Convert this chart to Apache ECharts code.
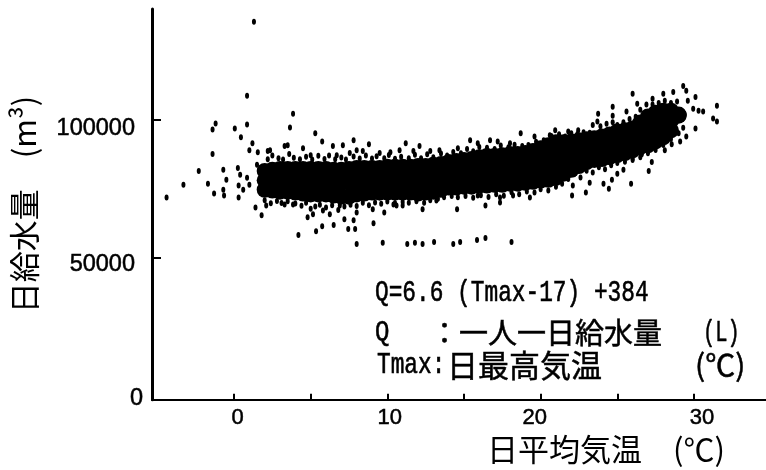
<!DOCTYPE html>
<html><head><meta charset="utf-8">
<style>html,body{margin:0;padding:0;background:#fff}#c{width:766px;height:470px}</style>
<script src="https://cdn.jsdelivr.net/npm/echarts@6/dist/echarts.min.js"></script>
</head><body><div id="c"></div>
<script>
// Dense band of the cloud, read column by column (temperature, upper / middle / lower water volume)
const bandTemp = [2,2.5,3,3.5,4,4.5,5,5.5,6,6.5,7,7.5,8,8.5,9,9.5,10,10.5,11,11.5,12,12.5,13,13.5,14,14.5,15,15.5,16,16.5,17,17.5,18,18.5,19,19.5,20,20.5,21,21.5,22,22.5,23,23.5,24,24.5,25,25.5,26,26.5,27,27.5,28,28.5,29];
const bandHigh = [81400,81800,82100,82100,82100,82100,82100,82100,82100,81800,81800,82100,82500,82500,82500,82500,82900,82900,82900,82900,83200,83200,83600,83900,84600,85000,85400,85700,86400,86800,86800,87100,87500,87500,87900,88600,89600,90700,91800,91800,92100,92500,92900,93200,93900,94600,95700,96100,96800,98900,101100,102500,103200,103200,101800];
const bandMid  = [78000,78000,78000,78000,77900,77700,77500,77500,77500,77200,77000,77100,77700,77900,78000,78000,78200,78200,78200,78200,78200,78400,78700,79200,80000,80200,80500,80700,81200,81400,81600,81700,82100,82100,82500,83000,83700,84400,85300,86100,87000,87800,88700,89300,89800,90500,91400,92000,92800,94400,95900,97300,98400,99600,101600];
const bandLow  = [74600,74300,73900,73900,73600,73200,72900,72900,72900,72500,72100,72100,72900,73200,73600,73600,73600,73600,73600,73600,73200,73600,73900,74600,75400,75400,75700,75700,76100,76100,76400,76400,76800,76800,77100,77500,77900,78200,78900,80400,81800,83200,84600,85400,85700,86400,87100,87900,88900,90000,90700,92100,93600,96100,101400];
// Extra columns where the band is thickest
const bandFillPoints = [[15.5,83200],[15.5,78200],[16,83800],[16,78600],[16.5,84100],[16.5,78800],[17,84200],[17,79000],[17.5,84400],[17.5,79000],[18,84800],[18,79400],[18.5,84800],[18.5,79400],[19,85200],[19,79800],[19.5,85800],[19.5,80200],[20,86600],[20,80800],[20.5,87500],[20.5,81300],[21,88500],[21,82100],[21.5,89000],[21.5,83300],[22,89500],[22,84400],[22.5,90100],[22.5,85500],[23,90800],[23,86600],[23.5,91200],[23.5,87300],[24,91800],[24,87700],[26,94800],[26,90900],[26.5,96600],[26.5,92200],[27,98500],[27,93300],[27.5,99900],[27.5,94700],[28,100800],[28,96000]];
// Ragged points along the edges of the band
const topEdgePoints = [[2.2,85600],[2.5,87000],[2.9,86000],[3.2,85500],[3.6,87500],[3.9,86200],[4.3,85600],[4.7,86500],[5.1,85500],[5.5,86900],[5.9,85700],[6.2,87000],[6.6,85600],[7,86300],[7.3,85500],[7.8,86600],[8.2,85900],[8.6,87000],[9,85900],[9.3,86700],[9.8,86000],[10.1,87200],[10.5,85800],[10.9,86500],[11.4,86000],[11.8,87300],[12.2,86000],[12.6,87400],[13,86400],[13.5,87700],[13.9,87000],[14.3,88300],[14.8,87800],[15.2,89300],[15.6,88500],[16,90100],[16.5,89800],[17,89300],[17.4,90600],[17.9,90000],[18.3,90900],[18.8,90400],[19.2,90800],[19.7,92000],[20.2,92500],[20.7,94000],[21.2,94700],[21.6,93900],[22,95000],[22.4,94800],[22.8,95400],[23.2,95200],[23.4,98000],[23.9,97600],[24.3,98500],[24.7,99000],[25,98000],[25.4,99000],[25.8,100200],[26.2,101000],[26.5,103500],[26.9,105400],[27.3,105400],[27.7,106000],[28.1,106800],[28.5,106000],[28.9,106500]];
const bottomEdgePoints = [[2,70800],[2.4,69700],[2.8,70500],[3.1,69800],[3.5,70400],[4,69600],[4.4,68800],[4.7,69900],[5,67700],[5.3,68500],[5.6,69200],[6,68200],[6.4,69000],[6.8,67300],[7.2,68500],[7.6,69200],[8,68700],[8.4,69900],[8.8,69000],[9.2,70000],[9.6,69500],[10,70300],[10.5,69800],[11,70200],[11.4,69900],[11.9,70400],[12.4,69900],[12.8,70800],[13.3,71300],[13.7,71900],[14.2,72300],[14.6,71900],[15.1,72300],[15.6,71700],[16.1,72600],[16.6,72000],[17.1,73000],[17.6,72400],[18.1,73700],[18.6,73000],[19.1,74000],[19.6,73600],[20,74800],[20.5,74300],[21,75700],[21.4,76800],[21.8,78500],[22.2,80300],[22.6,79000],[23,81500],[23.4,80800],[23.8,82700],[24.2,82000],[24.6,83500],[25,84300],[25.5,84700],[26,85800],[26.6,87400],[27,87800],[27.5,89000],[28,90800],[28.5,93000],[29,95000],[29.3,97000]];
// Individually visible points around the band
const coldPoints = [[-4.4,71800],[-3.3,76400],[-2.3,81400],[-1.7,76800],[-1.3,73200],[-0.7,81800],[-0.5,78200],[-0.7,74600],[-0.65,72500],[-1.4,87500],[-1.4,96400],[-1.2,98600],[0.05,96800],[0.45,93600],[0.85,98200],[0.85,108600],[1.3,135400],[1.2,91400],[1,88900],[1.55,88200],[0.25,82500],[0.4,80000],[0.3,76100],[0.3,71800],[0.6,74600],[0.85,78900],[1,76400],[1.5,83600],[1.8,82500]];
const upperPoints = [[3.85,102100],[3.65,97100],[5.3,95000],[5.75,92100],[6.45,90400],[7.1,90700],[7.8,92500],[8.8,91100],[11.2,91400],[10.8,88900],[3.5,90700],[3.3,90400],[4.5,89600],[2.2,88600],[2.35,88900],[5,87100],[6.7,87100],[7.55,87900],[8,88900],[8.4,88600],[9.5,87900],[10.2,88200],[11.7,88600],[12.8,88600],[13.4,88900],[12.1,90400],[14.6,89600],[15.4,92500],[15.9,91400],[16.7,92500],[17.2,92100],[18,91400],[18.7,95000],[19.6,93900],[20.6,94300],[20.95,96100],[21.8,95700],[22.45,96100],[23.7,99300],[23.75,102100],[24.7,101400],[24.7,104600],[25.6,102900],[26.3,105700],[26,109300],[27.3,107500],[28,109300],[28.65,110000],[29.3,112100],[29.5,110400],[29.6,106800],[30.1,108200],[29.95,103900],[30.3,103200],[30.6,102900],[31.5,105000],[31.25,100400],[31.5,99300],[30.1,96800],[29.5,93900],[29.1,92100],[28.55,91100],[28.1,88900]];
const lowerPoints = [[1.4,68200],[1.8,65400],[2.1,68900],[3.3,69300],[3.85,69300],[4.2,58200],[4.8,64600],[5.35,59600],[5.75,61400],[6.5,61800],[7.2,63900],[7.45,60400],[7.9,60400],[7.8,63600],[8,66400],[8,55000],[9.7,55400],[9.1,62500],[9.8,66400],[9.05,67500],[11.3,55000],[11.8,55400],[12.3,55000],[13.05,55700],[10.6,68900],[11,68900],[12.3,67500],[5.15,65700],[5.8,67100],[6.25,65700],[6.9,68900],[9.5,71800],[10.4,69300],[11.9,71800],[13.2,70700],[14.55,67500],[16.4,68900],[17.35,70000],[14.3,55000],[14.75,55700],[15.85,56400],[16.4,57100],[18.1,55700],[15.9,72500],[17.35,71800],[18.2,72500],[19.3,71800],[22.05,72500],[22.95,73600],[22.1,76100],[23.2,77100],[24.1,76800],[24.45,75000],[25.9,76800],[27.05,81400],[27.25,84600],[25,80400],[24.65,78200],[25.4,81800],[26,85400],[26.5,86400]];
const xTicks = [0,5,10,15,20,25,30];
const xLabels = [0,10,20,30];
const yTicks = [50000,100000];
const yLabels = [0,50000,100000];
const equationLines = ['Q=6.6 (Tmax-17) +384','Q','：一人一日給水量','(L)','Tmax:','日最高気温','(℃)'];

const bandData = bandFillPoints.slice();
bandTemp.forEach((t,i)=>{ bandData.push([t,bandHigh[i]],[t,bandMid[i]],[t,bandLow[i]]); });

const LATIN = '"Liberation Sans", sans-serif';
const MONO = '"Liberation Mono", monospace';
const CJK = '"Noto Sans CJK JP", sans-serif';
const note = (text,x,y,font,size,sx,sy) => ({type:'text',x,y,scaleX:sx,scaleY:sy,
  style:{text,font:`${size}px ${font}`,fill:'#000',stroke:'#000',lineWidth:0.5,textVerticalAlign:'middle'}});
const dots = (name,data) => ({name,type:'scatter',data,symbol:'circle',symbolSize:[4,6],itemStyle:{color:'#000',opacity:1},silent:true});

const chart = echarts.init(document.getElementById('c'),null,{renderer:'canvas'});
chart.setOption({
  animation:false,
  backgroundColor:'#fff',
  grid:{left:152,right:0,top:9,bottom:65},
  xAxis:{type:'value',min:-5.35,max:34.7,
    splitLine:{show:false},
    axisLine:{onZero:false,lineStyle:{color:'#000',width:2}},
    axisTick:{inside:true,length:6,lineStyle:{color:'#000',width:2},customValues:xTicks},
    axisLabel:{customValues:xLabels,margin:7,color:'#000',fontFamily:LATIN,fontSize:22,
      textBorderColor:'#000',textBorderWidth:0.5,
      formatter:v=>`{x${v}|${v}}`,
      rich:{x0:{padding:[0,0,0,7]},x10:{padding:[0,0,0,5]},x20:{padding:[0,12,0,0]},x30:{padding:[0,0,4,16]}}},
    name:'日平均気温　(℃)',nameLocation:'middle',nameGap:32,
    nameTextStyle:{color:'#000',fontFamily:CJK,fontSize:31,padding:[0,0,0,294]}},
  yAxis:{type:'value',min:-1429,max:140000,
    splitLine:{show:false},
    axisLine:{onZero:false,lineStyle:{color:'#000',width:3}},
    axisTick:{inside:true,length:9,lineStyle:{color:'#000',width:2},customValues:yTicks},
    axisLabel:{customValues:yLabels,margin:9,color:'#000',fontFamily:LATIN,fontSize:23.5,
      textBorderColor:'#000',textBorderWidth:0.5,
      formatter:v=>`{y${v}|${v}}`,
      rich:{y0:{padding:[6,0,0,0]},y50000:{padding:[14,8,0,0]},y100000:{padding:[18,8,0,0]}}},
    name:'日給水量　(m³)',nameLocation:'middle',nameRotate:90,nameGap:112,
    nameTextStyle:{color:'#000',fontFamily:CJK,fontSize:31}},
  series:[
    {name:'band',type:'scatter',data:bandData,symbol:'circle',symbolSize:16,itemStyle:{color:'#000',opacity:1},silent:true},
    dots('top edge',topEdgePoints),
    dots('bottom edge',bottomEdgePoints),
    dots('cold',coldPoints),
    dots('upper',upperPoints),
    dots('lower',lowerPoints)
  ],
  graphic:[
    note(equationLines[0],375,293,MONO,24,0.95,1.2),
    note(equationLines[1],375,333,MONO,24,1,1.2),
    note(equationLines[2],430,333,CJK,29,1,1),
    note(equationLines[3],703,333,MONO,24,0.85,1.25),
    note(equationLines[4],377,365,MONO,24,0.95,1.2),
    note(equationLines[5],447,365,CJK,31,1,1),
    note(equationLines[6],695,365,CJK,30,1,1)
  ]
});
</script></body></html>
